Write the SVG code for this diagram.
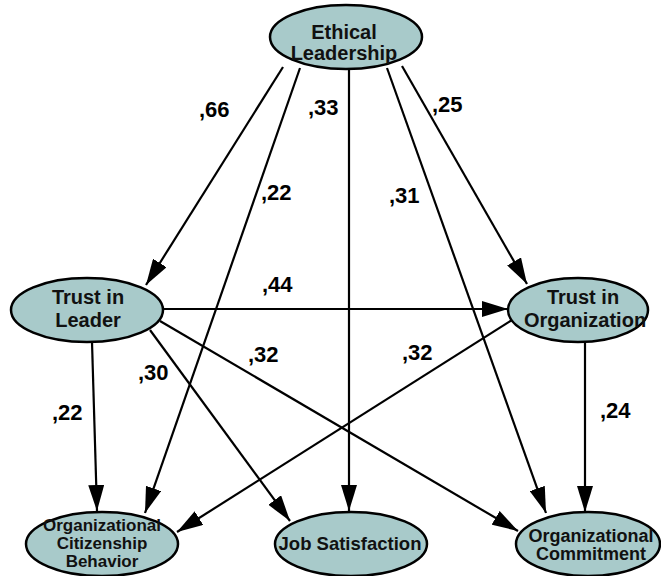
<svg xmlns="http://www.w3.org/2000/svg" width="661" height="576" viewBox="0 0 661 576">
  <defs>
    <marker id="arrow" markerUnits="userSpaceOnUse" markerWidth="26" markerHeight="16" refX="26" refY="8" orient="auto">
      <path d="M0,0 L26,8 L0,16 Z" fill="#000"/>
    </marker>
  </defs>
  <style>
    .node ellipse { fill: #a8caca; stroke: #000; stroke-width: 2.5; }
    .node text { font-family: "Liberation Sans", Arial, sans-serif; font-weight: bold; fill: #111; text-anchor: middle; }
    .big { font-size: 20px; }
    .small { font-size: 17px; }
    .mid { font-size: 18px; }
    .edge { stroke: #000; stroke-width: 2.2; fill: none; marker-end: url(#arrow); }
    .lbl { font-family: "Liberation Sans", Arial, sans-serif; font-weight: bold; font-size: 22px; fill: #000; }
  </style>
  <rect width="661" height="576" fill="#fff"/>

  <!-- paths between constructs -->
  <g id="connectors">
    <line class="edge" x1="283" y1="67" x2="146" y2="285"/>
    <line class="edge" x1="300" y1="68" x2="145" y2="513"/>
    <line class="edge" x1="349" y1="69" x2="349" y2="511"/>
    <line class="edge" x1="387" y1="68" x2="546" y2="513"/>
    <line class="edge" x1="402" y1="66" x2="527" y2="284"/>
    <line class="edge" x1="163" y1="309" x2="508" y2="309"/>
    <line class="edge" x1="92" y1="342" x2="97" y2="511"/>
    <line class="edge" x1="150" y1="330" x2="290" y2="521"/>
    <line class="edge" x1="160" y1="321" x2="518" y2="531"/>
    <line class="edge" x1="512" y1="320" x2="177" y2="532"/>
    <line class="edge" x1="585" y1="342" x2="585" y2="512"/>
  </g>

  <!-- path coefficients -->
  <g id="labels">
    <text class="lbl" x="199" y="117">,66</text>
    <text class="lbl" x="308" y="115">,33</text>
    <text class="lbl" x="432" y="112">,25</text>
    <text class="lbl" x="261" y="200">,22</text>
    <text class="lbl" x="389" y="203">,31</text>
    <text class="lbl" x="262" y="292">,44</text>
    <text class="lbl" x="248" y="362">,32</text>
    <text class="lbl" x="138" y="380">,30</text>
    <text class="lbl" x="402" y="360">,32</text>
    <text class="lbl" x="52" y="420">,22</text>
    <text class="lbl" x="600" y="418">,24</text>
  </g>

  <g id="ethical-leadership" class="node">
    <ellipse cx="346" cy="37" rx="76" ry="32"/>
    <text class="big" x="344" y="39">Ethical</text>
    <text class="big" x="344" y="60">Leadership</text>
  </g>
  <g id="trust-in-leader" class="node">
    <ellipse cx="87" cy="310" rx="76" ry="32"/>
    <text class="big" x="88" y="304">Trust in</text>
    <text class="big" x="88" y="327">Leader</text>
  </g>
  <g id="trust-in-organization" class="node">
    <ellipse cx="578" cy="310" rx="70" ry="32"/>
    <text class="big" x="583" y="304">Trust in</text>
    <text class="big" x="585" y="327">Organization</text>
  </g>
  <g id="ocb" class="node">
    <ellipse cx="102" cy="544" rx="76" ry="32"/>
    <text class="small" x="102" y="531">Organizational</text>
    <text class="small" x="102" y="549">Citizenship</text>
    <text class="small" x="102" y="567">Behavior</text>
  </g>
  <g id="job-satisfaction" class="node">
    <ellipse cx="351" cy="544" rx="76" ry="32"/>
    <text x="350" y="550" style="font-size:18.5px">Job Satisfaction</text>
  </g>
  <g id="organizational-commitment" class="node">
    <ellipse cx="588" cy="544" rx="72" ry="32"/>
    <text class="mid" x="591" y="541.5">Organizational</text>
    <text class="mid" x="591" y="560">Commitment</text>
  </g>
</svg>
